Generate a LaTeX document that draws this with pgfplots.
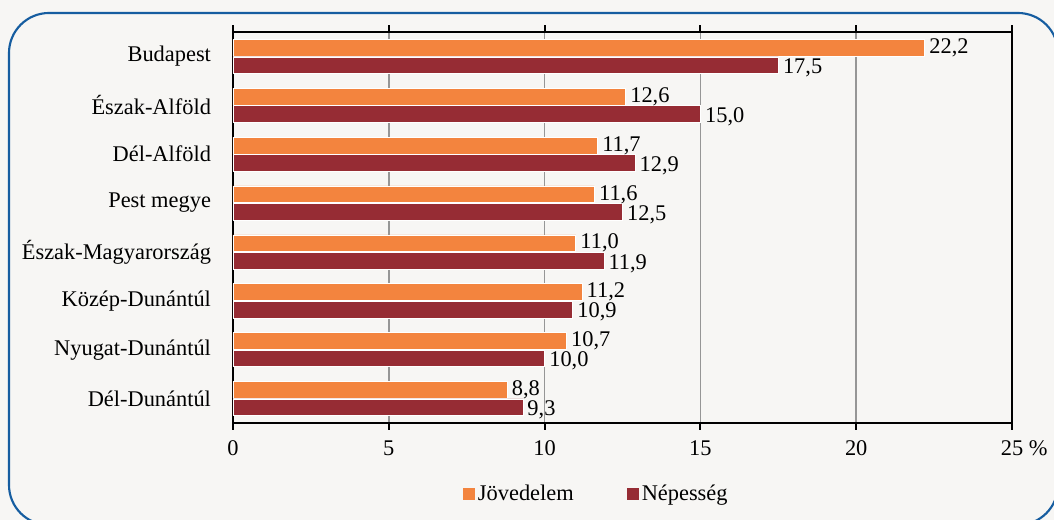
\documentclass[border=0pt]{standalone}
\usepackage{fontspec}
\setmainfont{Liberation Serif}
\usepackage{pgfplots}
\pgfplotsset{compat=1.18}
\definecolor{jov}{RGB}{243,132,62}
\definecolor{nep}{RGB}{150,44,52}
\definecolor{bgc}{RGB}{247,246,244}
\definecolor{frm}{RGB}{22,93,160}
\definecolor{grd}{RGB}{150,150,150}
\begin{document}
\begin{tikzpicture}
\path[use as bounding box] (0,0) rectangle (790.5pt,390pt);
\clip (0,0) rectangle (790.5pt,390pt);
\fill[bgc] (0,0) rectangle (790.5pt,390pt);
\begin{axis}[
  at={(174.75pt,72.75pt)}, anchor=south west,
  scale only axis, width=584.25pt, height=293.25pt,
  xbar, bar width=12.5pt,
  xmin=0, xmax=25, ymin=-0.5, ymax=7.5,
  xtick={0,5,10,15,20,25},
  xticklabels={0,5,10,15,20,{25\rlap{ \%}}},
  ytick={0,...,7},
  yticklabels={Dél-Dunántúl,Nyugat-Dunántúl,Közép-Dunántúl,Észak-Magyarország,Pest megye,Dél-Alföld,Észak-Alföld,Budapest},
  xmajorgrids, grid style={color=grd, line width=1.1pt},
  axis line style={line width=1.5pt, black},
  x tick style={black, line width=1.5pt}, xtick align=outside, major tick length=5pt,
  y tick style={draw=none},
  tick label style={font=\fontsize{16.8}{20}\selectfont},
  xticklabel style={yshift=-4.5pt},
  yticklabel style={xshift=-8pt},
  /pgf/number format/assume math mode=true,
  axis background/.style={fill=bgc},
  nodes near coords,
  point meta=explicit symbolic,
  every node near coord/.append style={font=\fontsize{16.8}{20}\selectfont, anchor=west, black, inner ysep=0pt},
  legend style={at={(0.467,-0.182)}, anchor=center, draw=none, fill=none,
    legend columns=2, font=\fontsize{16.8}{20}\selectfont,
    /tikz/every even column/.append style={column sep=38pt}},
  legend image code/.code={\fill[#1,draw=none] (0pt,-4.5pt) rectangle (9pt,4.5pt);},
]
\addplot[fill=jov, draw=white, line width=0.4pt, bar shift=6.55pt,
  every node near coord/.append style={yshift=0pt}] coordinates {
  (22.2,7) [22,2] (12.6,6) [12,6] (11.7,5) [11,7] (11.6,4) [11,6]
  (11.0,3) [11,0] (11.2,2) [11,2] (10.7,1) [10,7] (8.8,0) [8,8]};
\addplot[fill=nep, draw=white, line width=0.4pt, bar shift=-6.55pt,
  every node near coord/.append style={yshift=-2pt}] coordinates {
  (17.5,7) [17,5] (15.0,6) [15,0] (12.9,5) [12,9] (12.5,4) [12,5]
  (11.9,3) [11,9] (10.9,2) [10,9] (10.0,1) [10,0] (9.3,0) [9,3]};
\legend{Jövedelem,Népesség}
\end{axis}
\draw[frm, line width=1.6pt, rounded corners=30pt] (6.75pt,-3.75pt) rectangle (793.5pt,380.25pt);
\end{tikzpicture}
\end{document}
